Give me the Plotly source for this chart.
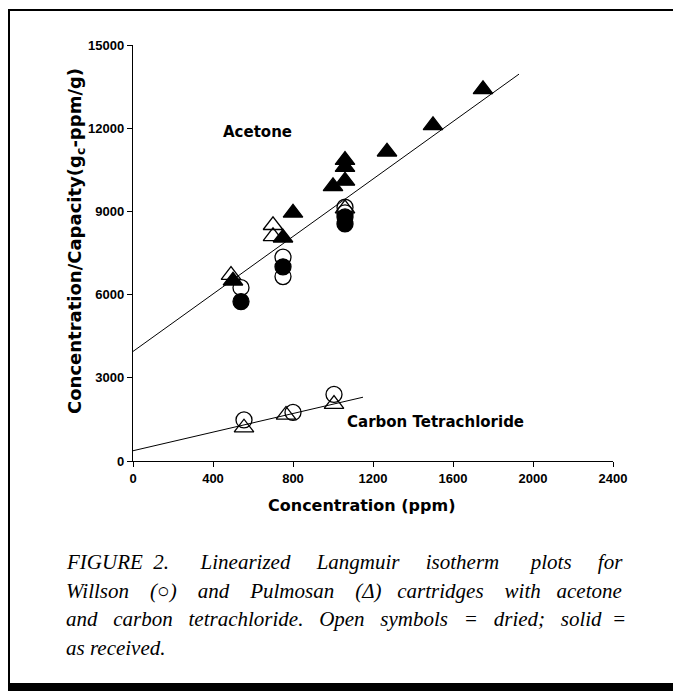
import plotly.graph_objects as go

# ---- data ----
# Acetone
ac_willson_open_x = [540, 750, 750, 1060, 1060]
ac_willson_open_y = [6250, 7350, 6650, 9150, 8950]
ac_willson_solid_x = [540, 750, 1060, 1060]
ac_willson_solid_y = [5750, 7000, 8800, 8550]
ac_pulm_open_x = [490, 700, 700, 1060]
ac_pulm_open_y = [6700, 8500, 8100, 9100]
ac_pulm_solid_x = [500, 750, 800, 1000, 1060, 1060, 1060, 1270, 1500, 1750]
ac_pulm_solid_y = [6500, 8050, 8950, 9900, 10100, 10600, 10850, 11150, 12100, 13400]
ac_fit_x = [0, 1930]
ac_fit_y = [3950, 13950]

# Carbon tetrachloride
cc_willson_open_x = [555, 800, 1005]
cc_willson_open_y = [1480, 1750, 2400]
cc_pulm_open_x = [555, 765, 1005]
cc_pulm_open_y = [1200, 1660, 2050]
cc_fit_x = [0, 1150]
cc_fit_y = [370, 2300]

x_ticks = [0, 400, 800, 1200, 1600, 2000, 2400]
y_ticks = [0, 3000, 6000, 9000, 12000, 15000]

x_title = "Concentration (ppm)"
y_title = "Concentration/Capacity(g<sub>c</sub>-ppm/g)"

caption_words = [
    ["FIGURE", "2.", "Linearized", "Langmuir", "isotherm", "plots", "for"],
    ["Willson", "(\u25cb)", "and", "Pulmosan", "(\u0394)", "cartridges", "with", "acetone"],
    ["and", "carbon", "tetrachloride.", "Open", "symbols", "=", "dried;", "solid", "="],
    ["as", "received."],
]
# extra (non-breaking) spaces per word gap, to imitate the justified setting
caption_pad = [
    [1, 5, 4, 4, 5, 4],
    [3, 3, 3, 3, 2, 3, 2],
    [2, 2, 2, 2, 2, 2, 2, 1],
    [0],
]

BLK = "black"
SANS = "Liberation Sans"
WIDE = "DejaVu Sans"

fig = go.Figure()

def add_line(x, y):
    fig.add_trace(go.Scatter(x=x, y=y, mode="lines",
                             line=dict(color=BLK, width=1), showlegend=False))

def add_pts(x, y, symbol, size=16):
    fig.add_trace(go.Scatter(x=x, y=y, mode="markers", showlegend=False,
                             marker=dict(symbol=symbol, size=size, color=BLK,
                                         line=dict(color=BLK, width=1.3))))

add_line(ac_fit_x, ac_fit_y)
add_line(cc_fit_x, cc_fit_y)
add_pts(ac_willson_open_x, ac_willson_open_y, "circle-open")
add_pts(ac_willson_solid_x, ac_willson_solid_y, "circle")
add_pts(ac_pulm_open_x, ac_pulm_open_y, "triangle-up-open", 17)
add_pts(ac_pulm_solid_x, ac_pulm_solid_y, "triangle-up", 17)
add_pts(cc_willson_open_x, cc_willson_open_y, "circle-open")
add_pts(cc_pulm_open_x, cc_pulm_open_y, "triangle-up-open", 17)

lab_font = dict(family=WIDE, size=15, color=BLK, weight="bold")
fig.add_annotation(x=620, y=11850, text="Acetone", showarrow=False, font=lab_font)
fig.add_annotation(x=1510, y=1400, text="Carbon Tetrachloride", showarrow=False,
                   font=lab_font)

# page pixel -> paper coordinates (plot area spans page x 133..613, y 45..461)
def xp(px):
    return (px - 133) / 480

def yp(py):
    return (461 - py) / 416

# axis titles (placed as annotations to match the original offsets)
fig.add_annotation(xref="paper", yref="paper", x=xp(361), y=yp(505),
                   xanchor="center", yanchor="middle",
                   text=x_title, showarrow=False,
                   font=dict(family=WIDE, size=16, color=BLK, weight="bold"))
fig.add_annotation(xref="paper", yref="paper", x=xp(76), y=yp(241),
                   xanchor="center", yanchor="middle",
                   text=y_title, showarrow=False, textangle=-90,
                   font=dict(family=WIDE, size=18, color=BLK, weight="bold"))

# caption
cap_y = [562, 591, 619, 648]
for words, pads, yy in zip(caption_words, caption_pad, cap_y):
    txt = words[0]
    for w, p in zip(words[1:], pads):
        txt += " " + "\u00a0" * p + w
    fig.add_annotation(xref="paper", yref="paper", x=xp(64), y=yp(yy),
                       xanchor="left", yanchor="middle",
                       text="<i>" + txt + "</i>", showarrow=False,
                       font=dict(family="Liberation Serif", size=21, color=BLK))

# frame lines
fig.add_shape(type="line", xref="paper", yref="paper",
              x0=xp(9), x1=xp(9), y0=yp(10), y1=yp(686),
              line=dict(color=BLK, width=2))
fig.add_shape(type="line", xref="paper", yref="paper",
              x0=xp(8), x1=xp(681), y0=yp(10), y1=yp(10),
              line=dict(color=BLK, width=2))
fig.add_shape(type="rect", xref="paper", yref="paper",
              x0=xp(0), x1=xp(681), y0=yp(683), y1=yp(692),
              fillcolor=BLK, line=dict(width=0))

tickfont = dict(family=SANS, size=13, color=BLK, weight="bold")
fig.update_xaxes(range=[0, 2400], tickvals=x_ticks, ticktext=[str(v) for v in x_ticks],
                 showgrid=False, zeroline=False, showline=True, linecolor=BLK,
                 linewidth=1.3, ticks="outside", ticklen=5, tickcolor=BLK,
                 tickfont=tickfont)
fig.update_yaxes(range=[0, 15000], tickvals=y_ticks, ticktext=[str(v) for v in y_ticks],
                 showgrid=False, zeroline=False, showline=True, linecolor=BLK,
                 linewidth=1.3, ticks="outside", ticklen=5, tickcolor=BLK,
                 tickfont=tickfont)

# the page body has an 8px margin, so the figure is drawn 8px smaller and shifted
fig.update_layout(width=673, height=683, margin=dict(l=125, r=68, t=37, b=230),
                  paper_bgcolor="white", plot_bgcolor="white", showlegend=False)

fig.write_html("out.html")
